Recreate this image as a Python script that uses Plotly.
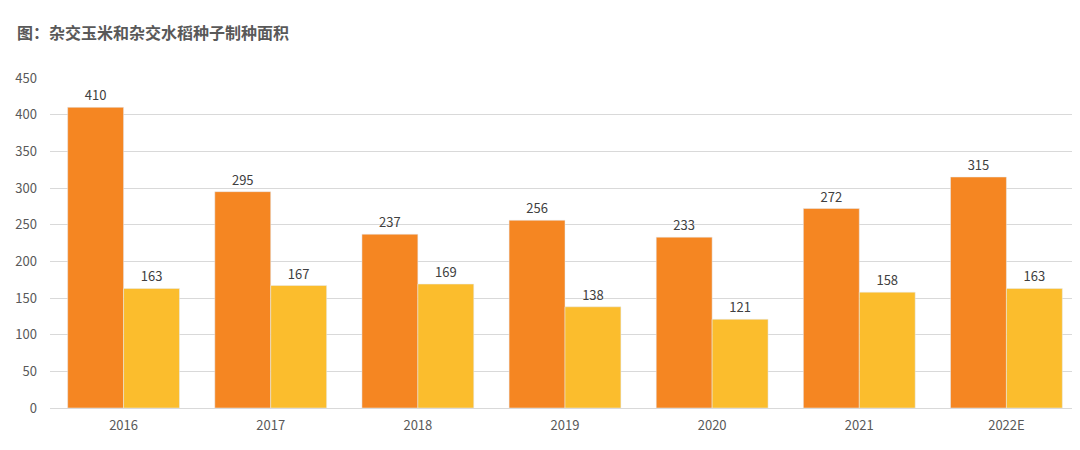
import plotly.graph_objects as go

years = ["2016", "2017", "2018", "2019", "2020", "2021", "2022E"]
corn = [410, 295, 237, 256, 233, 272, 315]
rice = [163, 167, 169, 138, 121, 158, 163]
y_ticks = [0, 50, 100, 150, 200, 250, 300, 350, 400, 450]

font_family = "Noto Sans CJK SC, Noto Sans, sans-serif"

fig = go.Figure()
fig.add_trace(go.Bar(x=years, y=corn, name="杂交玉米", marker_color="#F58622",
                     text=corn, textposition="outside", cliponaxis=False,
                     textfont=dict(size=13, color="#404040")))
fig.add_trace(go.Bar(x=years, y=rice, name="杂交水稻", marker_color="#FBBD2D",
                     text=rice, textposition="outside", cliponaxis=False,
                     textfont=dict(size=13, color="#404040")))

W, H = 1072, 442
fig.update_layout(
    width=W, height=H,
    margin=dict(l=42, r=0, t=70, b=42, autoexpand=False),
    paper_bgcolor="white", plot_bgcolor="white",
    barmode="group", bargap=0.24, bargroupgap=0,
    showlegend=False,
    font=dict(family=font_family, size=13, color="#595959"),
    title=dict(text="<b>图：杂交玉米和杂交水稻种子制种面积</b>",
               xref="container", yref="container",
               x=9 / W, xanchor="left",
               y=1 - 25 / H, yanchor="middle",
               font=dict(size=16, color="#595959", family=font_family)),
    xaxis=dict(showgrid=False, showline=True, linecolor="#D9D9D9", ticks="",
               automargin=False, ticklabelstandoff=5,
               tickfont=dict(size=13, color="#595959")),
    yaxis=dict(range=[0, 450], tickvals=y_ticks, showgrid=True, gridcolor="#D9D9D9",
               zeroline=False, ticks="", automargin=False,
               tickfont=dict(size=13, color="#595959"),
               ticklabelstandoff=12),
)

fig.write_html("out.html")
